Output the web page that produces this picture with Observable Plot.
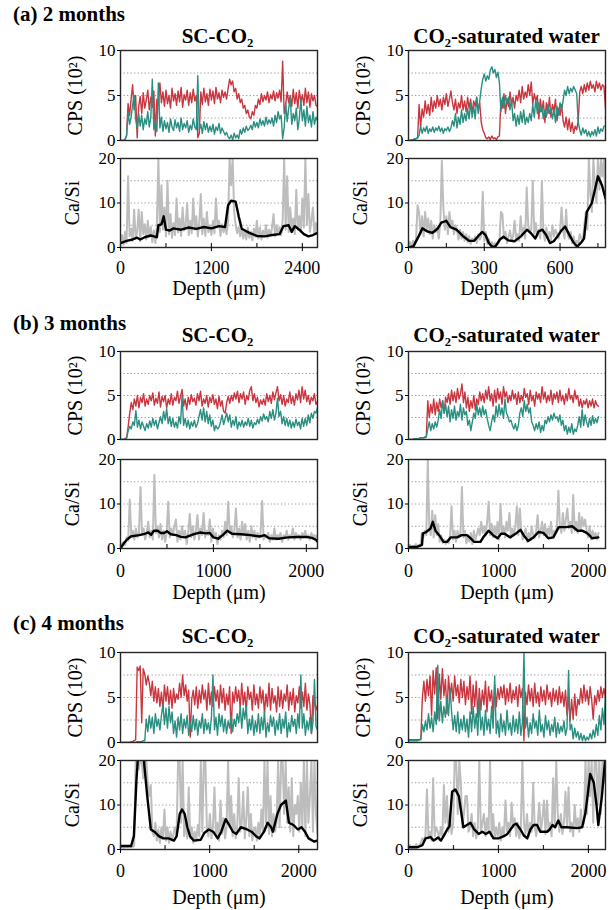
<!DOCTYPE html>
<html><head><meta charset="utf-8">
<script src="https://cdn.jsdelivr.net/npm/d3@7"></script>
<script src="https://cdn.jsdelivr.net/npm/@observablehq/plot@0.6"></script>
<style>
body{margin:0;background:#fff;}
#root{position:relative;width:616px;height:910px;overflow:hidden;font-family:"Liberation Serif","Times New Roman",serif;color:#000;}
.t{position:absolute;font-weight:bold;font-size:21px;line-height:1;white-space:nowrap;}
.c{transform:translateX(-50%);}
svg.p text{font-family:"Liberation Serif","Times New Roman",serif;}
</style></head><body><div id="root"></div>
<script>
// ---------- labels ----------
const rowTitles = ["(a) 2 months", "(b) 3 months", "(c) 4 months"];
const colTitles = ["SC-CO₂", "CO₂-saturated water"];
const cpsLabel = "CPS (10²)";
const ratioLabel = "Ca/Si";
const depthLabel = "Depth (μm)";
const cpsTicks = [0, 5, 10];
const cpsGrid = [2.5, 5, 7.5];
const ratioTicks = [0, 10, 20];
const ratioGrid = [5, 10, 15];

// ---------- (a) 2 months, SC-CO2 ----------
const a1XMax = 2600;
const a1XTicks = [0, 1200, 2400];
const a1XMinor = [600, 1800];
const a1Red = [0,0,0,0.1,0.6,4.1,2.8,4.6,6.2,3.4, 5.0,0.3,3.8,4.9,3.0,5.3,3.6,4.5,5.6,3.4, 4.8,3.7,5.5,0.5,4.6,3.9,6.4,4.2,5.4,3.8, 5.6,4.1,5.0,3.6,5.8,4.4,5.2,3.9,5.5,4.3, 5.9,3.7,5.1,4.5,5.6,3.9,5.3,4.2,5.7,4.4, 5.0,0.3,0.8,5.4,4.0,5.8,4.3,5.2,3.9,5.7, 4.5,5.5,4.1,5.9,4.6,5.3,4.2,5.6,4.8,5.4, 4.6,5.8,6.8,6.2,6.6,5.4,5.8,4.6,5.2,4.2, 4.6,3.6,3.9,3.0,3.4,2.6,2.4,3.2,2.8,3.9, 3.6,4.6,4.0,5.2,4.3,5.0,4.5,5.4,4.2,5.1, 4.6,5.5,4.4,5.3,4.7,5.6,4.3,8.8,3.0,4.0, 5.4,4.2,5.0,3.8,5.7,4.1,5.3,3.6,5.6,4.3, 5.1,3.9,5.8,4.2,5.4,3.7,5.2,4.4,5.0,3.9,3.8];
const a1Teal = [0,0,0,0.1,0.5,3.2,1.8,2.6,4.0,5.0, 2.4,1.3,3.0,1.6,2.8,1.2,2.4,1.8,3.2,1.5, 2.6,6.8,1.2,2.0,1.0,6.4,1.4,2.6,1.0,2.2, 1.3,2.0,0.9,2.4,1.5,1.1,2.3,1.4,2.0,1.0, 2.5,1.2,1.9,1.4,2.2,0.9,1.7,1.2,2.4,1.5, 1.2,7.2,1.2,1.8,0.8,2.1,1.2,1.9,0.9,1.6, 1.0,1.8,0.7,1.5,1.1,1.9,0.8,1.4,1.0,0.6, 0.9,0.4,0.2,0.6,0.1,0.8,0.3,0.6,0.2,1.2, 0.7,1.4,0.9,1.6,1.1,1.3,1.7,1.2,2.1,1.5, 2.0,1.4,2.4,1.7,2.2,1.6,2.6,1.8,2.3,1.9, 2.5,1.6,2.8,2.0,3.2,2.4,2.8,0.2,1.4,4.2, 2.1,3.6,4.8,1.8,3.0,2.2,3.6,1.2,2.4,4.6, 2.2,3.4,1.6,3.8,2.0,2.8,1.5,3.2,1.8,2.6,2.2];
const a1Gray = [1.2,2.8,0.6,3.5,1.0,16,2.5,4.2,1.5,8.5, 2.0,3.6,8.5,1.4,8.0,3.0,5.2,1.8,6.0,2.4, 4.6,1.2,3.8,1.0,5.0,20,3.5,14,4.0,9.0, 2.5,15,3.0,7.5,2.2,5.5,2.8,11,3.4,6.5, 2.6,9.0,3.8,5.0,10,2.8,6.0,3.2,11,4.0, 7.0,2.5,5.5,12,3.0,6.5,2.6,8.0,3.4,5.0, 2.8,6.0,3.2,11,4.5,6.0,2.6,5.2,3.4,4.8, 3.0,6.0,20,14,20,8.0,5.0,3.2,4.6,2.5, 4.2,2.0,3.8,1.8,4.5,2.2,3.6,1.6,4.2,2.4, 6.0,2.0,4.5,1.8,3.8,2.5,5.0,2.2,4.0,2.6, 4.4,7.5,2.5,5.0,3.0,4.6,2.8,6.0,20,4.0, 16,3.5,9.0,4.2,6.5,3.0,13,4.0,7.0,3.5, 11,4.5,20,5.0,12,3.5,6.0,9.0,3.0,5.5,3.5];
const a1BlackDepth = [0,80,160,220,260,320,400,440,480,500,540,570,600,650,700,800,900,1000,1100,1200,1300,1380,1420,1460,1520,1560,1600,1700,1800,1900,2000,2100,2150,2220,2260,2300,2360,2420,2480,2540,2600];
const a1BlackRatio = [1,1.5,1.8,2.2,1.8,2.3,2.7,2.5,2.3,5.0,5.2,7.0,4.0,3.8,4.3,4.0,4.5,4.2,4.6,4.3,4.8,4.6,9.5,10.5,10.3,7,4.2,3.3,2.6,2.5,2.8,3.0,4.8,5.0,3.5,4.8,4.0,3.0,2.5,2.8,3.3];

// ---------- (a) 2 months, CO2-saturated water ----------
const a2XMax = 780;
const a2XTicks = [0, 300, 600];
const a2XMinor = [150, 450, 750];
const a2Red = [0,0,0,0.1,0.1,0.2,0.3,4.0,1.5,3.5, 2.6,4.4,3.0,4.0,2.8,4.8,3.2,4.4,3.6,5.0, 3.8,4.6,3.4,4.8,4.0,5.2,3.8,4.6,5.5,4.2, 3.4,4.6,3.0,4.2,3.6,5.0,3.4,4.4,3.2,4.8, 3.6,4.6,3.0,4.4,3.8,4.8,3.4,4.2,2.0,1.2, 0.8,0.3,0.2,0.4,0.1,0.5,0.2,0.3,0.1,0.4, 0.5,4.5,3.6,5.2,3.0,4.6,3.8,5.4,4.0,4.8, 3.6,5.0,4.4,5.6,4.2,6.0,4.6,5.4,4.8,6.2, 5.0,6.5,4.0,5.2,4.4,5.0,2.4,4.6,3.2,4.4, 2.0,4.2,3.0,4.8,2.6,4.0,3.2,4.6,2.2,3.6, 2.8,4.0,2.2,1.5,2.6,1.2,2.4,1.0,2.0,0.8, 1.6,1.2,2.2,5.4,6.0,5.2,6.2,5.4,6.4,5.6, 6.6,5.8,6.2,5.4,6.6,5.8,6.4,5.6,6.2,6.0,3.6];
const a2Teal = [0,0,0.1,0.1,0.2,0.2,0.3,0.6,1.6,0.8, 1.4,1.0,1.6,0.8,1.3,1.0,1.5,0.9,1.4,1.1, 1.6,1.0,1.4,0.8,1.3,1.1,1.5,1.0,1.4,2.2, 1.6,3.0,1.4,2.6,1.8,3.4,2.0,3.0,2.2,3.6, 2.4,4.2,2.6,3.8,2.4,4.8,3.0,4.4,5.8,6.8, 7.4,6.6,7.2,6.8,7.8,8.2,7.5,7.9,7.0,7.6, 6.4,3.2,4.8,3.6,5.0,4.2,4.8,3.4,4.6,2.2, 3.0,1.6,2.8,1.8,3.2,2.0,3.4,1.8,2.6,2.0, 3.0,2.2,4.0,2.6,4.6,3.0,4.2,3.2,3.8,2.4, 3.4,2.6,4.0,3.0,3.6,2.4,3.4,2.0,3.8,2.8, 4.2,3.4,4.4,5.6,5.0,6.0,5.2,5.8,5.4,6.0, 5.6,5.2,2.0,1.2,0.6,1.4,0.8,1.2,0.5,1.0, 0.4,1.0,0.6,1.2,0.5,1.5,0.8,1.3,1.0,1.6,1.6];
const a2Gray = [0.5,1.2,0.3,1.5,0.6,2.0,9.5,7.8,3.0,7.0, 2.5,8.0,4.0,6.5,3.0,6.0,2.0,5.0,3.5,4.5, 2.0,5.5,19.5,9.0,4.0,7.0,3.0,8.0,5.0,6.0, 3.0,5.0,4.0,1.8,4.0,2.0,3.5,1.5,3.0,1.2, 2.5,0.8,2.0,1.5,2.5,1.0,3.0,1.8,2.5,12.5, 1.5,3.5,0.8,2.0,0.5,1.2,0.3,1.0,0.5,0.8, 1.5,8.0,7.5,2.0,3.5,1.0,2.5,3.8,1.5,2.5, 6.0,2.0,3.0,1.5,7.0,3.0,4.5,2.0,13.5,5.0, 3.5,4.0,15,3.0,5.5,2.5,4.0,2.0,15,3.5, 1.5,4.5,2.0,3.5,1.5,5.0,2.5,4.0,3.0,2.0, 3.5,9.0,4.0,2.0,8.5,3.0,2.0,3.5,1.0,2.5, 0.5,1.5,1.0,3.0,2.0,1.5,5.0,8.0,4.0,20, 12,8.0,20,14,10,20,13,20,16,20,10];
const a2BlackDepth = [0,20,40,55,75,95,115,130,150,166,190,215,240,260,280,292,305,318,332,345,362,376,395,420,445,469,485,502,515,530,545,560,575,590,605,620,640,655,668,685,695,706,726,738,750,766,780];
const a2BlackRatio = [0,0.3,2.5,4.3,3.6,3.3,4.2,5.6,6.0,4.6,4.0,2.6,1.5,1.5,2.8,3.5,2.8,1.0,0.1,0.3,1.8,2.4,1.6,1.4,2.5,4.0,3.2,2.0,3.6,4.0,2.8,1.0,1.4,2.5,3.8,4.7,2.5,1.0,0.2,1.2,2.0,8.0,10.0,13,16,14,11];

// ---------- (b) 3 months, SC-CO2 ----------
const b1XMax = 2120;
const b1XTicks = [0, 1000, 2000];
const b1XMinor = [500, 1500];
const b1Red = [0,0,0,0.1,0.2,1.5,3.0,4.2,3.4,4.6, 3.8,5.0,3.6,4.8,4.2,5.2,3.8,4.6,4.0,5.0, 4.4,5.3,3.9,4.7,4.1,5.4,3.7,4.9,4.3,5.0, 3.6,4.6,4.0,5.2,3.9,4.8,4.4,5.5,4.1,4.9, 5.7,3.8,4.6,3.4,4.8,4.0,5.1,4.3,4.7,3.9, 5.2,4.4,5.5,3.8,4.6,4.1,5.0,3.7,4.8,4.2, 5.1,4.0,4.6,3.5,4.9,3.8,4.4,3.2,3.0,4.2, 4.9,4.1,5.0,4.4,5.3,4.6,5.5,4.2,5.2,4.6, 5.4,4.0,5.0,4.5,5.6,6.0,4.4,5.2,4.2,4.8, 3.7,4.5,4.0,4.6,3.9,5.2,4.3,5.0,4.1,5.4, 4.5,5.3,6.0,4.4,5.1,4.0,5.0,3.8,4.6,4.2, 5.4,4.1,4.9,3.9,5.2,4.5,5.6,4.2,6.0,4.6, 5.6,4.3,5.0,4.0,4.8,4.4,5.2,4.0,4.3];
const b1Teal = [0,0,0,0.1,0.2,1.0,1.5,1.2,2.0,1.6, 3.3,1.4,2.2,1.2,2.0,1.5,1.0,1.8,1.3,2.1, 1.4,2.4,1.6,2.2,1.2,1.9,2.6,1.8,3.2,2.2, 3.5,1.8,2.6,1.5,2.4,1.4,2.0,1.3,2.6,1.8, 5.0,1.6,2.4,1.4,2.2,1.2,2.0,1.5,2.2,1.4, 1.8,2.6,3.4,2.2,3.6,2.0,3.2,1.8,2.8,1.5, 2.2,1.0,1.6,1.2,1.4,2.0,2.8,1.7,2.4,3.0, 2.0,2.8,1.4,2.2,1.6,2.6,1.2,2.0,1.5,2.2, 1.4,2.0,1.6,2.4,1.5,2.2,1.3,1.9,1.7,2.3, 1.8,2.6,2.1,2.9,2.3,2.6,2.0,3.2,2.4,3.4, 2.2,3.0,4.7,2.6,3.2,1.8,2.6,1.6,2.4,1.5, 2.2,1.3,2.0,1.4,2.3,1.6,2.0,1.2,2.4,1.5, 2.4,1.6,2.8,1.9,3.0,2.4,3.2,3.0,3.6];
const b1Gray = [0.5,1.0,1.5,0.8,2.5,1.8,11,3.0,4.0,2.0, 4.5,2.5,3.5,13.8,3.0,4.5,2.0,3.5,6.0,2.5, 4.0,2.0,16.5,3.5,5.0,2.5,5.5,2.0,4.0,1.5, 3.5,10.5,2.5,4.5,3.0,5.0,6.5,1.5,4.0,2.0, 5.0,2.5,4.0,1.0,3.5,7.8,2.5,5.0,2.0,4.0, 7.5,2.0,4.5,3.0,8.0,2.5,4.0,3.0,6.5,1.5, 4.5,2.5,3.5,1.0,3.0,2.0,4.0,2.5,6.0,3.0, 10.5,3.5,5.0,2.5,4.0,9.0,2.5,4.5,2.0,6.0, 3.0,5.5,2.0,4.0,1.5,5.0,2.5,4.0,2.0,3.5, 2.5,3.5,10.7,2.0,3.0,2.5,3.5,1.5,3.0,2.0, 4.5,2.0,3.0,2.5,3.5,1.5,3.0,2.5,4.0,2.0, 3.0,2.5,4.5,2.0,3.5,2.5,3.0,2.0,3.5,2.5, 4.0,2.5,3.0,2.0,3.5,2.5,3.0,2.5,3.0];
const b1BlackDepth = [0,30,70,110,200,260,300,330,360,400,430,470,500,540,600,650,700,760,800,860,920,960,1000,1050,1100,1150,1200,1300,1400,1500,1550,1600,1700,1800,1900,2000,2060,2100,2120];
const b1BlackRatio = [0,1.0,2.0,2.7,3.0,3.3,3.6,3.1,4.0,4.0,3.5,3.5,3.9,3.2,3.0,2.6,2.5,3.0,3.3,3.6,3.4,3.5,2.5,2.2,3.0,4.0,3.3,3.2,3.0,2.7,3.0,2.3,2.2,2.5,2.6,2.6,2.4,2.0,1.5];

// ---------- (b) 3 months, CO2-saturated water ----------
const b2XMax = 2190;
const b2XTicks = [0, 1000, 2000];
const b2XMinor = [500, 1500];
const b2DataEnd = 2112;
const b2Red = [0,0,0,0,0.1,0.1,0.1,0.1,0.2,0.2, 0.2,0.2,0.3,4.4,2.5,4.0,3.0,4.6,2.8,4.2, 3.2,4.6,3.6,4.4,3.0,4.8,4.2,5.2,4.0,5.6, 4.4,5.4,4.2,5.8,4.6,5.2,6.3,4.2,5.4,3.6, 4.8,3.2,4.4,3.6,5.0,3.4,4.6,4.0,5.4,4.4, 5.2,4.2,5.6,4.6,6.0,4.4,5.2,3.8,5.6,4.2, 5.8,4.6,5.4,4.0,6.0,4.8,5.4,4.2,5.0,4.4, 5.6,4.6,5.2,4.0,5.4,4.2,5.0,4.4,5.8,4.8, 5.2,4.0,5.6,4.4,5.0,3.8,5.4,4.6,5.2,4.2, 6.0,4.6,5.4,4.2,5.0,4.4,5.6,4.0,5.2,4.6, 5.4,4.2,5.6,4.4,5.0,4.0,5.2,4.4,5.8,4.6, 5.0,4.2,5.6,4.6,5.0,3.8,4.6,3.6,4.4,4.0, 4.6,3.6,4.4,3.8,4.6,3.6,4.4,3.9,3.8];
const b2Teal = [0,0,0,0,0.1,0.1,0.1,0.1,0.2,0.2, 0.2,0.3,0.3,1.2,2.0,1.0,1.8,1.2,2.0,1.4, 2.2,3.4,2.4,4.4,3.0,4.0,2.6,3.8,2.0,3.4, 2.4,3.8,2.2,3.2,2.6,4.0,2.2,3.6,2.8,3.2, 1.6,2.2,1.0,2.0,3.0,2.4,4.0,2.8,3.6,2.6, 3.8,2.8,3.4,2.4,1.6,1.0,2.0,2.8,2.0,3.8, 2.6,4.0,2.8,3.6,2.4,4.6,3.0,2.6,2.0,2.2, 1.6,1.2,1.8,1.0,1.6,3.0,3.6,2.6,4.4,3.2, 4.0,3.0,3.6,2.0,1.6,1.0,1.8,1.2,2.0,0.8, 1.6,1.0,2.2,1.8,2.6,2.0,2.8,2.2,3.0,2.4, 2.6,2.0,2.8,1.6,2.2,1.0,1.6,0.6,1.4,0.8, 1.8,0.6,1.2,0.9,1.6,2.6,1.4,3.4,1.6,2.8, 2.0,1.4,2.4,1.6,2.7,1.8,2.4,1.9,2.6];
const b2Gray = [0.3,0.8,0.2,0.6,0.4,1.0,0.3,0.8,0.5,3.5, 2.5,4.0,3.0,20,4.5,3.0,8.5,2.5,7.5,3.0, 5.5,1.5,3.0,1.2,2.0,1.0,1.8,1.2,3.0,9.5, 2.0,4.0,1.5,4.0,2.5,3.5,13.8,2.5,4.0,1.2, 3.0,1.5,3.5,1.0,4.0,2.0,3.0,4.5,3.0,6.0, 3.5,5.0,3.0,6.0,10.5,3.0,5.5,2.5,5.0,3.0, 6.0,2.0,10,3.5,5.0,2.5,6.0,4.0,8.0,2.5, 4.5,3.0,5.0,9.5,3.0,9.0,4.0,2.0,3.5,4.5, 1.5,3.5,2.0,5.0,3.0,2.5,4.0,7.5,2.5,4.0, 6.0,3.0,5.5,2.5,4.5,3.0,6.0,2.5,4.0,3.5, 5.0,13,5.0,3.5,8.0,4.0,6.5,9.0,4.5,6.0, 3.5,12,4.0,6.0,3.5,8.0,4.0,7.0,5.0,6.5, 4.0,2.5,5.0,2.0,4.0,2.5,3.5,2.0,3.5];
const b2BlackDepth = [0,100,150,160,190,245,270,300,340,390,430,470,540,590,650,680,730,800,830,890,940,990,1030,1070,1130,1190,1245,1280,1330,1390,1445,1500,1555,1610,1670,1750,1820,1880,1930,1980,2010,2040,2110];
const b2BlackRatio = [0.3,0.4,0.8,3.4,3.6,4.5,6.0,4.0,3.0,1.5,1.5,2.5,2.5,3.0,3.0,2.5,1.5,1.5,2.5,4.0,3.0,2.3,3.3,3.3,2.5,3.3,4.2,3.0,1.7,2.5,3.7,3.5,2.3,2.5,4.8,4.8,5.0,4.0,4.0,3.5,3.0,2.3,2.5];

// ---------- (c) 4 months, SC-CO2 ----------
const c1XMax = 2210;
const c1XTicks = [0, 1000, 2000];
const c1XMinor = [500, 1500];
const c1Red = [0,0,0,0,0,0,0,0.1,0.1,0.2, 0.3,8.4,8.0,8.5,2.2,8.2,7.6,6.4,7.4,6.6, 5.2,6.8,4.6,6.2,4.4,6.0,4.0,5.6,3.6,6.4, 4.6,6.2,4.2,5.8,3.8,6.0,4.4,5.4,4.8,6.6, 5.0,7.5,5.2,6.4,4.6,5.8,0.6,4.8,5.8,4.2, 6.2,3.8,5.8,4.4,6.4,4.8,5.8,3.6,6.6,4.2, 5.6,4.0,6.2,4.6,5.8,3.8,6.4,4.4,6.0,3.6, 5.4,4.2,6.2,1.0,5.6,4.4,6.2,4.6,5.8,3.8, 6.6,4.2,5.6,3.4,6.2,4.8,5.6,3.6,6.4,4.2, 5.4,3.8,6.2,4.4,5.8,3.2,5.4,4.0,6.6,3.6, 6.0,4.4,5.2,3.4,6.2,4.0,5.8,3.8,5.4,4.6, 6.4,3.6,5.6,4.2,6.0,3.4,5.2,4.4,6.2,3.8, 5.6,4.0,6.6,3.6,5.4,4.2,1.0,5.2,4.4,3.6,4.2];
const c1Teal = [0,0,0,0,0,0,0,0,0,0, 0,0.1,0.1,0.1,0.1,0.2,0.2,2.6,1.2,3.0, 1.6,2.8,1.0,3.2,1.8,2.6,1.4,3.0,4.2,2.0, 3.8,1.6,4.0,2.2,3.4,1.0,2.4,0.6,2.8,1.4, 3.2,1.0,2.6,1.6,3.0,0.8,2.2,1.2,3.0,1.4, 2.6,0.8,2.4,1.6,3.2,1.0,2.6,1.4,2.2,1.0, 2.8,7.5,1.4,2.8,0.8,3.2,1.8,3.0,1.2,2.6, 1.0,2.4,1.6,3.0,1.2,2.6,1.8,3.2,2.2,4.0, 1.6,3.8,2.6,4.0,1.0,2.6,1.4,3.0,0.8,2.4, 1.2,3.2,1.0,2.8,1.4,3.4,0.6,2.2,1.2,3.0, 1.8,2.8,0.8,2.4,1.4,3.2,1.0,2.6,1.6,3.4, 0.6,2.2,1.2,3.0,1.8,2.6,1.0,3.2,1.6,7.5, 1.6,3.2,0.8,2.4,1.4,2.8,1.0,2.2,7.0,1.8,1.4];
const c1Gray = [0.5,0.6,0.4,0.5,0.6,0.5,0.8,0.5,0.6,0.8, 20,20,18,20,20,16,20,20,15,12, 14.5,4.0,3.0,6.0,2.0,4.5,1.5,5.0,2.5,9.0, 2.0,5.0,1.5,4.0,2.0,3.5,5.0,3.0,20,20, 6.0,20,3.0,6.0,2.5,14,2.5,5.0,1.5,4.0, 2.0,5.5,3.0,20,4.0,20,20,5.0,3.0,8.0, 2.5,5.0,14,3.0,6.0,2.0,11,3.5,7.0,2.5, 5.0,20,5.0,12,3.0,8.0,2.5,5.0,16,4.0, 6.0,13,2.5,7.0,14,3.0,8.0,2.0,4.5,5.0, 2.0,6.0,3.0,9.0,4.0,20,6.0,20,3.5,12, 3.0,8.0,4.0,6.0,20,5.0,20,20,8.0,20, 6.0,14,4.0,16,3.0,10,8.0,12,4.0,15, 5.0,20,3.0,20,6.0,12,20,4.0,20,8.0,3.5];
const c1BlackDepth = [0,120,150,180,195,260,300,340,380,430,480,540,600,630,665,690,720,750,780,820,900,940,990,1040,1090,1130,1180,1220,1260,1300,1350,1420,1470,1520,1560,1610,1650,1690,1710,1760,1800,1855,1890,1940,1990,2030,2070,2110,2170,2210];
const c1BlackRatio = [0.8,0.8,3,16,20.5,20.5,12,4.5,4,3,2.5,2.5,2,3,8,9,8,5,3,2,2.2,3.7,4.5,4,2.5,4,6.8,5.5,4,3.5,5,4.5,4,3,2.5,4,6,5,4,8,10,11,6,5.5,4.5,5,4,2.5,1.8,2];

// ---------- (c) 4 months, CO2-saturated water ----------
const c2XMax = 2190;
const c2XTicks = [0, 1000, 2000];
const c2XMinor = [500, 1500];
const c2Red = [0.3,0.3,0.3,0.3,0.3,0.3,0.3,0.3,0.4,5.0, 6.8,4.6,7.0,5.2,7.4,3.0,8.0,5.4,8.3,2.6, 7.6,4.8,8.2,5.2,7.0,3.2,7.4,5.0,6.6,4.6, 7.4,5.2,6.4,4.4,7.0,5.0,6.8,4.2,6.2,4.8, 7.4,3.2,6.4,4.0,6.8,2.8,6.0,3.6,5.8,4.2, 6.8,3.4,6.2,4.6,5.8,3.0,6.4,4.0,6.0,4.8, 6.2,5.0,6.4,4.2,6.0,4.6,6.6,4.4,5.8,4.8, 6.2,4.0,6.4,5.0,6.0,0.2,5.6,4.2,6.4,4.6, 6.0,4.0,6.6,4.4,5.6,4.0,6.2,4.6,5.8,4.2, 6.4,4.8,5.6,4.0,6.0,4.6,5.8,4.2,6.2,4.4, 5.6,4.0,5.8,3.0,5.2,2.4,4.8,2.6,5.4,3.0, 4.8,4.2,6.0,4.4,6.4,4.6,5.8,4.2,6.2,4.8, 2.6,5.2,4.2,5.8,4.6,6.2,5.0,6.0,5.0];
const c2Teal = [0.2,0.2,0.2,0.2,0.2,0.2,0.2,0.3,0.3,2.0, 1.2,2.4,1.4,3.2,1.6,2.8,1.2,3.4,2.0,8.6, 2.4,4.6,2.2,4.0,2.8,5.0,3.0,6.0,3.4,1.4, 3.0,1.2,3.4,1.0,2.6,1.4,3.0,1.2,2.6,0.6, 3.4,1.2,4.0,1.6,3.2,0.8,5.0,1.4,2.8,0.8, 3.6,1.4,2.6,1.0,4.0,1.6,7.4,1.0,2.4,0.6, 3.2,1.2,2.4,0.8,3.6,1.4,2.2,0.8,3.0,1.2, 2.6,1.0,3.4,0.8,2.2,10,1.6,2.8,0.6,2.2, 1.0,3.2,1.6,2.4,0.8,3.6,1.2,2.0,0.6,3.0, 1.4,2.4,0.8,2.0,1.2,2.8,0.6,2.2,1.0,1.8, 1.2,2.4,0.8,1.6,8.0,1.4,2.0,0.4,1.6,0.6, 1.2,0.3,1.0,0.2,0.8,0.2,0.6,0.3,1.0,0.4, 1.4,0.6,2.0,0.8,3.0,1.4,3.8,2.0,5.4];
const c2Gray = [0.5,1.0,0.4,0.8,0.5,1.2,0.6,1.0,1.5,2.5, 2.0,3.0,13.5,2.5,4.0,2.0,16,3.0,5.0,4.0, 2.5,5.0,3.0,14.5,6.0,12,4.0,8.0,3.5,6.0, 20,20,8.0,20,15,5.0,8.0,12,12,4.0, 5.0,8.0,3.0,6.0,2.5,5.0,20,4.0,6.0,8.0, 3.0,7.0,4.0,20,3.0,8.0,2.5,5.0,3.0,6.0, 2.0,5.0,3.0,11,4.0,6.0,3.0,10.5,5.0,7.0, 3.0,6.0,2.5,5.0,20,6.0,3.5,8.0,3.0,6.0, 4.0,15,5.0,3.0,6.0,10.5,4.0,7.0,11,3.5, 11,4.0,6.0,3.0,16,5.0,20,8.0,4.0,8.0, 3.5,6.0,13,5.0,14,4.0,6.0,3.0,10,5.0, 7.0,4.0,9.0,5.0,6.0,20,8.0,20,12,20, 6.0,20,20,10,20,8.0,20,15,20];
const c2BlackDepth = [0,100,155,190,245,280,330,360,390,430,455,485,520,560,610,650,690,730,780,820,860,900,945,1000,1060,1100,1170,1200,1245,1280,1320,1355,1390,1430,1465,1540,1570,1600,1630,1665,1700,1760,1875,1930,1965,1990,2020,2060,2090,2110,2150,2185];
const c2BlackRatio = [0.5,0.5,1,2.5,2.8,2.0,2.7,2.0,3.0,4.5,5.2,13,13.5,12,5,5.5,6,4.5,3.5,4,3.5,4,2.5,2.5,3,3.5,5.5,5.8,4.5,3.2,2.5,4.5,5.5,5.5,4,4,4.5,5.5,5,6.5,5,5,4.8,5,8,12,17,15,10,5.5,12,20];

// ---------- colours ----------
const redColor = "#c9363f";
const tealColor = "#2a8f80";
const grayColor = "#bdbdbd";
const blackColor = "#000000";

// ---------- helpers ----------
function even(vals, end) { return vals.map((v, i) => ({d: i * end / (vals.length - 1), v})); }
function pairs(ds, vs) { return ds.map((d, i) => ({d, v: vs[i]})); }

const root = document.getElementById("root");
const FONT = "'Liberation Serif','Times New Roman',serif";

function addText(txt, left, top, center) {
  const el = document.createElement("div");
  el.className = "t" + (center ? " c" : "");
  el.textContent = txt;
  el.style.left = left + "px";
  el.style.top = top + "px";
  root.appendChild(el);
}

function panel(o) {
  const mL = 70, mR = 6, mT = 6, mB = o.xTicks ? 64 : 6;
  const marks = [
    Plot.ruleY(o.grid, {stroke: "#9c9c9c", strokeWidth: 1, strokeDasharray: "1.3,2.2"}),
    ...o.series.map(s => Plot.line(s.data, {x: "d", y: "v", stroke: s.color, strokeWidth: s.sw, clip: true})),
    Plot.frame({stroke: "#262626", strokeWidth: 1.4}),
    Plot.axisY({ticks: o.yTicks, tickSize: 3, tickPadding: 2, fontSize: 17, fontFamily: FONT, label: null, tickFormat: d => String(d)}),
    Plot.text([o.ylabel], {text: d => d, frameAnchor: "left", textAnchor: "middle", lineAnchor: "middle", dx: -o.ylabelDx, rotate: -90, fontSize: 20, fontFamily: FONT})
  ];
  if (o.xTicks) {
    marks.push(Plot.axisX({ticks: o.xTicks, tickSize: 4, tickPadding: o.xTickPad, fontSize: 18, fontFamily: FONT, label: null, tickFormat: d => String(d)}));
    marks.push(Plot.ruleX([...o.xTicks, ...o.xMinor], {y1: 0, y2: o.ymax * 4 / o.h, stroke: "#262626", strokeWidth: 1.2}));
    marks.push(Plot.text([depthLabel], {text: d => d, frameAnchor: "bottom", textAnchor: "middle", lineAnchor: "middle", dy: o.xLabelDy, fontSize: 20, fontFamily: FONT}));
  }
  const svg = Plot.plot({
    width: o.w + mL + mR,
    height: o.h + mT + mB,
    marginLeft: mL, marginRight: mR, marginTop: mT, marginBottom: mB,
    x: {domain: [0, o.xmax], axis: null},
    y: {domain: [0, o.ymax], axis: null},
    style: "font-family:" + FONT + ";font-size:18px;background:transparent;overflow:visible;color:#000;",
    marks
  });
  svg.classList.add("p");
  svg.style.position = "absolute";
  svg.style.left = (o.left - mL) + "px";
  svg.style.top = (o.top - mT) + "px";
  root.appendChild(svg);
}

// ---------- layout ----------
const colLeft = [120, 408];
const colW = [197, 197];
const cpsTop = [50, 351, 652];
const cpsH = [90, 88, 90];
const ratioTop = [158, 459, 760];
const titleTop = [4, 312.5, 612.5];
const subTop = [26, 325, 626];
const xTickPad = [10, 12, 11];
const xLabelDy = [41, 44, 48];

const rows = [
  [
    {xmax: a1XMax, xTicks: a1XTicks, xMinor: a1XMinor, red: even(a1Red, a1XMax), teal: even(a1Teal, a1XMax), gray: even(a1Gray, a1XMax), black: pairs(a1BlackDepth, a1BlackRatio)},
    {xmax: a2XMax, xTicks: a2XTicks, xMinor: a2XMinor, red: even(a2Red, a2XMax), teal: even(a2Teal, a2XMax), gray: even(a2Gray, a2XMax), black: pairs(a2BlackDepth, a2BlackRatio)}
  ],
  [
    {xmax: b1XMax, xTicks: b1XTicks, xMinor: b1XMinor, red: even(b1Red, b1XMax), teal: even(b1Teal, b1XMax), gray: even(b1Gray, b1XMax), black: pairs(b1BlackDepth, b1BlackRatio)},
    {xmax: b2XMax, xTicks: b2XTicks, xMinor: b2XMinor, red: even(b2Red, b2DataEnd), teal: even(b2Teal, b2DataEnd), gray: even(b2Gray, b2DataEnd), black: pairs(b2BlackDepth, b2BlackRatio)}
  ],
  [
    {xmax: c1XMax, xTicks: c1XTicks, xMinor: c1XMinor, red: even(c1Red, c1XMax), teal: even(c1Teal, c1XMax), gray: even(c1Gray, c1XMax), black: pairs(c1BlackDepth, c1BlackRatio)},
    {xmax: c2XMax, xTicks: c2XTicks, xMinor: c2XMinor, red: even(c2Red, c2XMax), teal: even(c2Teal, c2XMax), gray: even(c2Gray, c2XMax), black: pairs(c2BlackDepth, c2BlackRatio)}
  ]
];

rows.forEach((row, r) => {
  addText(rowTitles[r], 13, titleTop[r], false);
  row.forEach((p, c) => {
    addText(colTitles[c], colLeft[c] + colW[c] / 2 + (c === 0 ? -1 : 0), subTop[r], true);
    panel({
      left: colLeft[c], top: cpsTop[r], w: colW[c], h: cpsH[r], xmax: p.xmax, ymax: 10,
      yTicks: cpsTicks, grid: cpsGrid, ylabel: cpsLabel, ylabelDx: 45,
      series: [{data: p.red, color: redColor, sw: 1.4}, {data: p.teal, color: tealColor, sw: 1.4}]
    });
    panel({
      left: colLeft[c], top: ratioTop[r], w: colW[c], h: 89, xmax: p.xmax, ymax: 20,
      yTicks: ratioTicks, grid: ratioGrid, ylabel: ratioLabel, ylabelDx: 48,
      xTicks: p.xTicks, xMinor: p.xMinor, xTickPad: xTickPad[r], xLabelDy: xLabelDy[r],
      series: [{data: p.gray, color: grayColor, sw: 2}, {data: p.black, color: blackColor, sw: 2.4}]
    });
  });
});
</script></body></html>
